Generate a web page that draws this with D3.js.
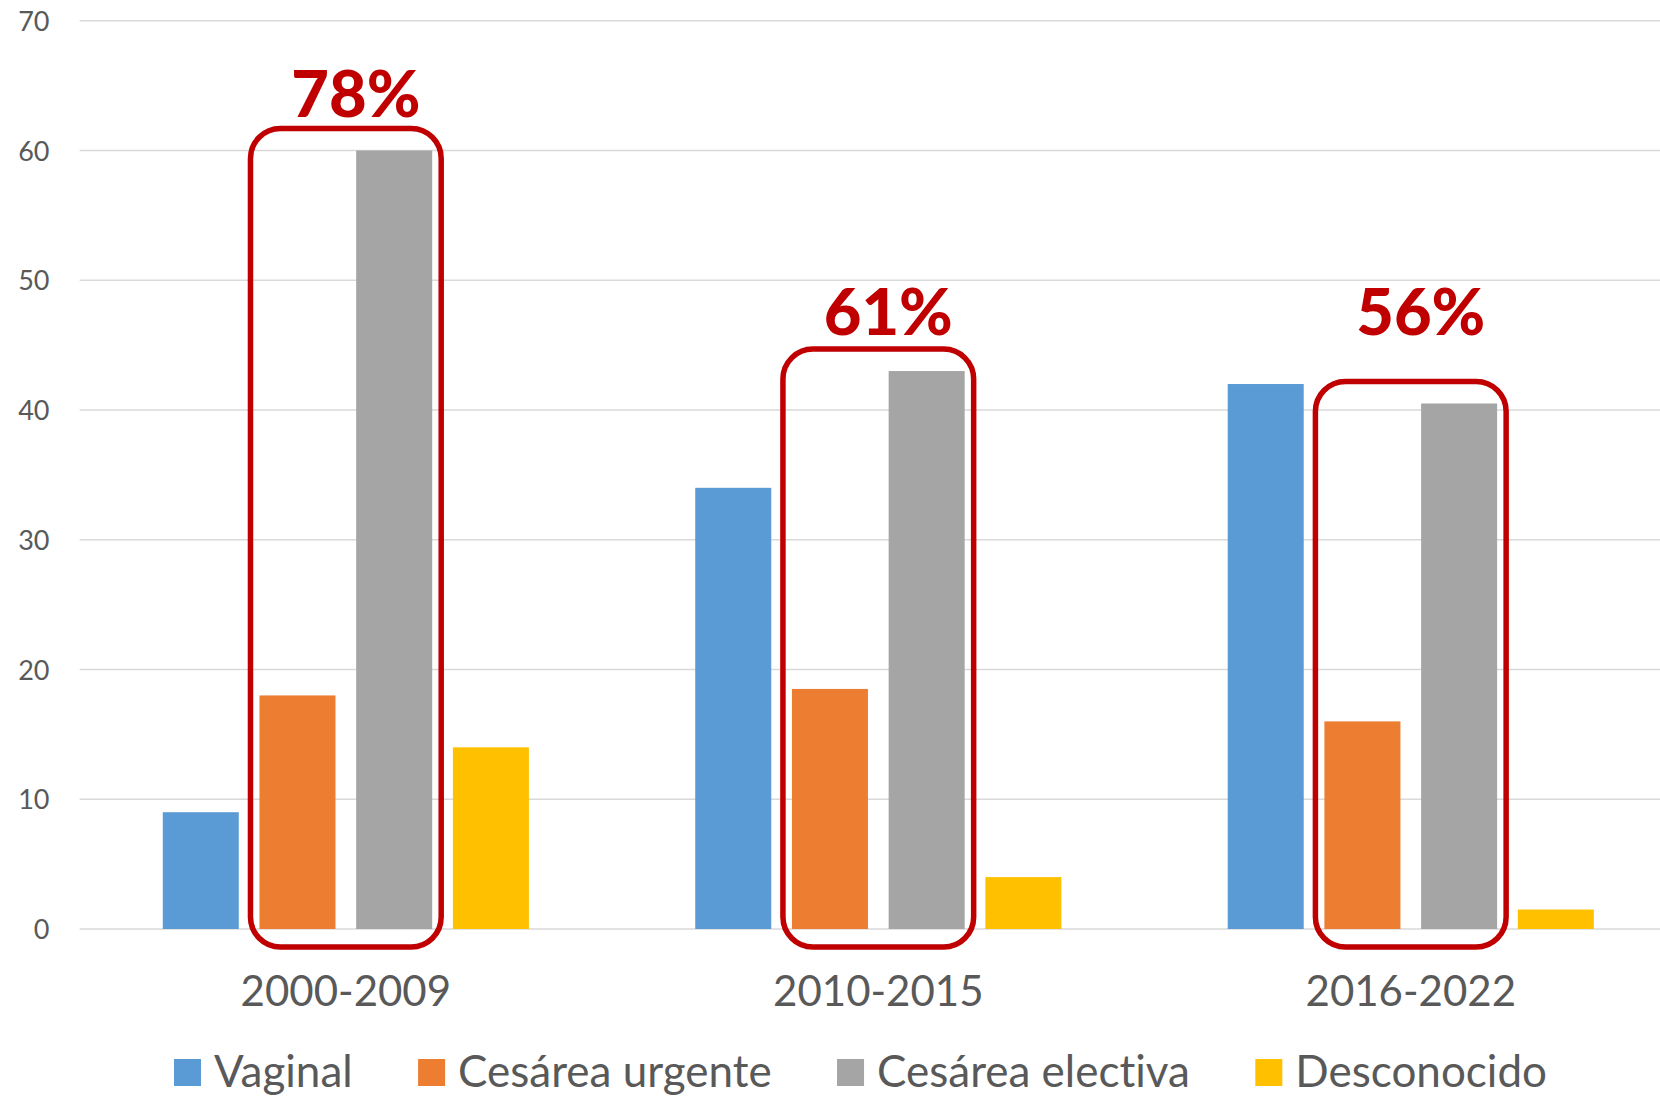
<!DOCTYPE html>
<html>
<head>
<meta charset="utf-8">
<script src="https://cdn.jsdelivr.net/npm/d3@7"></script>
<style>
  html, body { margin: 0; padding: 0; background: #fff; }
  svg { display: block; }
  text { font-family: Lato, "Open Sans", sans-serif; font-variant-ligatures: none; font-feature-settings: "liga" 0, "clig" 0; }
</style>
</head>
<body>
<svg id="chart" width="1660" height="1097"></svg>
<script>
const categories = ["2000-2009", "2010-2015", "2016-2022"];
const seriesNames = ["Vaginal", "Cesárea urgente", "Cesárea electiva", "Desconocido"];
const vaginal = [9, 34, 42];
const cesareaUrgente = [18, 18.5, 16];
const cesareaElectiva = [60, 43, 40.5];
const desconocido = [14, 4, 1.5];
const seriesColors = ["#5B9BD5", "#ED7D31", "#A5A5A5", "#FFC000"];
const yTicks = [0, 10, 20, 30, 40, 50, 60, 70];
const pctLabels = ["78%", "61%", "56%"];
const pctLabelAt = [62.6, 45.8, 45.8];
const highlighted = ["Cesárea urgente", "Cesárea electiva"];

const seriesValues = [vaginal, cesareaUrgente, cesareaElectiva, desconocido];
const data = categories.map((c, i) => ({
  category: c,
  values: seriesNames.map((s, j) => ({ series: s, value: seriesValues[j][i], color: seriesColors[j] }))
}));

const W = 1660, H = 1097;
const svg = d3.select("#chart");
const plotLeft = 79.6, plotRight = 1677;
const y = d3.scaleLinear().domain([0, 70]).range([929, 20.7]);
const x0 = d3.scaleBand().domain(categories).range([plotLeft, plotRight]).padding(0);
const x1 = d3.scaleBand().domain(seriesNames).range([0, x0.bandwidth()])
  .paddingInner(0.214).paddingOuter(0.86);

const textColor = "#595959";

// gridlines
svg.append("g").selectAll("line").data(yTicks).join("line")
  .attr("x1", plotLeft).attr("x2", W)
  .attr("y1", d => y(d)).attr("y2", d => y(d))
  .attr("stroke", "#D9D9D9").attr("stroke-width", 1.5);

// y axis labels
const yAxis = d3.axisLeft(y).tickValues(yTicks).tickSize(0).tickPadding(0);
const yg = svg.append("g").attr("transform", "translate(49.5,0)").call(yAxis);
yg.select(".domain").remove();
yg.selectAll("text").attr("fill", textColor).style("font-size", "27px")
  .style("font-family", "Lato, 'Open Sans', sans-serif").attr("dy", "0.36em");

// x axis labels
const xAxis = d3.axisBottom(x0).tickSize(0).tickPadding(0);
const xg = svg.append("g").call(xAxis);
xg.select(".domain").remove();
xg.selectAll("text").attr("fill", textColor).style("font-size", "42px")
  .style("font-family", "Lato, 'Open Sans', sans-serif")
  .attr("y", 1005.5).attr("dy", 0);

// bars
const groups = svg.append("g").selectAll("g").data(data).join("g")
  .attr("transform", d => `translate(${x0(d.category)},0)`);
groups.selectAll("rect").data(d => d.values).join("rect")
  .attr("x", d => x1(d.series))
  .attr("width", x1.bandwidth())
  .attr("y", d => y(d.value))
  .attr("height", d => y(0) - y(d.value))
  .attr("fill", d => d.color);

// highlight rounded boxes + percentage labels
const red = "#C00000";
data.forEach((d, i) => {
  const gx = x0(d.category);
  const left = gx + x1(highlighted[0]) - 9;
  const right = gx + x1(highlighted[1]) + x1.bandwidth() + 9;
  const maxVal = d3.max(d.values.filter(v => highlighted.includes(v.series)), v => v.value);
  const top = y(maxVal) - 22;
  const bottom = y(0) + 18;
  svg.append("rect")
    .attr("x", left).attr("y", top)
    .attr("width", right - left).attr("height", bottom - top)
    .attr("rx", 30).attr("ry", 30)
    .attr("fill", "none").attr("stroke", red).attr("stroke-width", 5.5);
  svg.append("text")
    .attr("x", (left + right) / 2 + 10)
    .attr("y", y(pctLabelAt[i]))
    .attr("text-anchor", "middle")
    .attr("fill", red)
    .style("font-size", "65px")
    .style("font-weight", "900")
    .text(pctLabels[i]);
});

// legend
const legend = svg.append("g");
const items = legend.selectAll("g").data(seriesNames).join("g");
items.append("rect").attr("width", 27).attr("height", 27).attr("y", 1059)
  .attr("fill", (d, i) => seriesColors[i]);
items.append("text").attr("x", 40).attr("y", 1086.5)
  .attr("fill", textColor).style("font-size", "44px").text(d => d);
const widths = [];
items.each(function () {
  widths.push(40 + this.querySelector("text").getComputedTextLength());
});
const legendStart = 174, legendEnd = 1547;
const gap = (legendEnd - legendStart - d3.sum(widths)) / (widths.length - 1);
const offsets = [];
let cx = legendStart;
widths.forEach(w => { offsets.push(cx); cx += w + gap; });
items.attr("transform", (d, i) => `translate(${offsets[i]},0)`);
</script>
</body>
</html>
